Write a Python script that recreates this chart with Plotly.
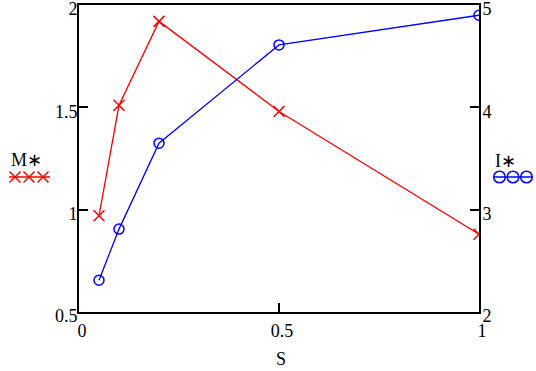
import plotly.graph_objects as go

# ---- data ----
S = [0.05, 0.1, 0.2, 0.5, 1.0]
M_star = [0.97, 1.51, 1.92, 1.48, 0.88]
I_star = [2.31, 2.81, 3.65, 4.61, 4.90]

x_ticks = [0, 0.5, 1]
x_labels = ["0", "0.5", "1"]
y_ticks = [0.5, 1, 1.5, 2]
y_labels = ["0.5", "1", "1.5", "2"]
y2_ticks = [2, 3, 4, 5]
y2_labels = ["2", "3", "4", "5"]

RED = "#ff0000"
BLUE = "#0000ff"
FONT = "Liberation Serif, Times New Roman, serif"

W, H = 536, 371
L, R, T, B = 79, 479, 5, 312


def px(x):
    return (x - L) / (R - L)


def py(y):
    return (B - y) / (B - T)


fig = go.Figure()
fig.add_trace(go.Scatter(
    x=S, y=M_star, mode="lines+markers", name="M∗",
    line=dict(color=RED, width=1.3),
    marker=dict(symbol="x-thin-open", size=11, color=RED,
                line=dict(color=RED, width=1.5)),
    yaxis="y",
))
fig.add_trace(go.Scatter(
    x=S, y=I_star, mode="lines+markers", name="I∗",
    line=dict(color=BLUE, width=1.3),
    marker=dict(symbol="circle-open", size=10, color=BLUE,
                line=dict(color=BLUE, width=1.5)),
    yaxis="y2",
))

axis_common = dict(
    showgrid=False, zeroline=False, showline=True, linecolor="black",
    linewidth=2, ticks="inside", ticklen=9, tickwidth=1.8, tickcolor="black",
    tickfont=dict(family=FONT, size=18, color="black"),
    tickmode="array", automargin=False, ticklabeloverflow="allow",
)

fig.update_layout(
    width=W, height=H,
    margin=dict(l=L, r=W - R, t=T, b=H - B, autoexpand=False),
    plot_bgcolor="white", paper_bgcolor="white",
    showlegend=False,
    font=dict(family=FONT, size=18, color="black"),
    xaxis=dict(range=[0, 1], tickvals=x_ticks, ticktext=x_labels,
               mirror=True, ticklabelstandoff=1, ticklabelshift=3,
               **axis_common),
    yaxis=dict(range=[0.5, 2], tickvals=y_ticks, ticktext=y_labels,
               ticklabelstandoff=-4, ticklabelshift=4, **axis_common),
    yaxis2=dict(range=[2, 5], tickvals=y2_ticks, ticktext=y2_labels,
                overlaying="y", side="right", ticklabelstandoff=-2,
                ticklabelshift=4, **axis_common),
)

# axis title
fig.add_annotation(text="S", x=px(281), y=py(359), xref="paper", yref="paper",
                   showarrow=False, xanchor="center", yanchor="middle",
                   font=dict(family=FONT, size=18, color="black"))

# side legend labels
fig.add_annotation(text="M∗", x=px(26), y=py(160), xref="paper", yref="paper",
                   showarrow=False, xanchor="center", yanchor="middle",
                   font=dict(family=FONT, size=18, color="black"))
fig.add_annotation(text="I∗", x=px(505), y=py(161), xref="paper", yref="paper",
                   showarrow=False, xanchor="center", yanchor="middle",
                   font=dict(family=FONT, size=18, color="black"))

shapes = []
# red legend sample: line with three x marks
shapes.append(dict(type="line", xref="paper", yref="paper",
                   x0=px(9), x1=px(50), y0=py(177), y1=py(177),
                   line=dict(color=RED, width=1.3)))
for cx in (15, 29, 43):
    for d in (1, -1):
        shapes.append(dict(type="line", xref="paper", yref="paper",
                           x0=px(cx - 5.5), x1=px(cx + 5.5),
                           y0=py(177 - 5.5 * d), y1=py(177 + 5.5 * d),
                           line=dict(color=RED, width=1.5)))
# blue legend sample: line with three circles
shapes.append(dict(type="line", xref="paper", yref="paper",
                   x0=px(493), x1=px(533), y0=py(177), y1=py(177),
                   line=dict(color=BLUE, width=1.3)))
for cx in (499.5, 513, 526.5):
    shapes.append(dict(type="circle", xref="paper", yref="paper",
                       x0=px(cx - 5.8), x1=px(cx + 5.8),
                       y0=py(177 - 5.8), y1=py(177 + 5.8),
                       line=dict(color=BLUE, width=1.5)))
fig.update_layout(shapes=shapes)

fig.write_html(
    "out.html",
    config={"displayModeBar": False},
    post_script="document.body.style.margin='0';document.body.style.overflow='hidden';",
)
